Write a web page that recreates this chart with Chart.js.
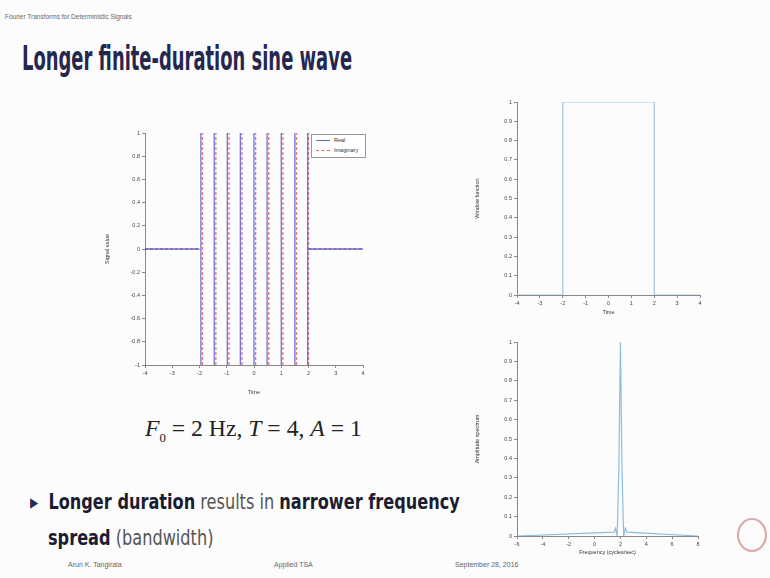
<!DOCTYPE html>
<html>
<head>
<meta charset="utf-8">
<script src="https://cdn.jsdelivr.net/npm/chart.js@4.4.0/dist/chart.umd.min.js"></script>
<style>
    body { margin: 0; background: #fff; }
    #slide { position: relative; width: 770px; height: 578px; background: #fcfcfc; overflow: hidden; font-family: "Liberation Sans", sans-serif; }
    .abs { position: absolute; white-space: nowrap; }
    #header { left: 5px; top: 13px; font-size: 6.5px; color: #666; }
    #title { left: 22px; top: 38px; font-family: "Liberation Sans Narrow", "DejaVu Sans Condensed", sans-serif; font-weight: bold; font-size: 34px; color: #26274f; transform-origin: 0 0; }
    #formula { left: 145px; top: 415px; font-family: "Liberation Serif", serif; font-size: 24px; color: #222; transform-origin: 0 0; }
    #formula i { font-style: italic; }
    #formula sub { font-size: 13px; }
    .bullet { left: 30px; font-family: "Liberation Sans Narrow", "DejaVu Sans Condensed", sans-serif; font-size: 21px; color: #555; transform-origin: 0 0; }
    .bullet b { color: #1c1c30; }
    #line1 { top: 490px; }
    #line2 { top: 526px; left: 48px; }
    .foot { top: 561px; font-size: 7px; color: #666; }
    #legend { left: 311px; top: 134px; width: 53px; height: 22px; border: 1px solid #999; background: #fff; font-size: 5.5px; color: #333; }
    #legend div { position: relative; height: 10px; line-height: 10px; padding-left: 22px; }
    #legend span { position: absolute; left: 4px; top: 5px; width: 14px; height: 0; }
    #logo { left: 737px; top: 518px; width: 26px; height: 30px; border: 2px solid #d8a6a6; border-radius: 50%; }
    canvas { position: absolute; }
</style>
</head>
<body>
<div id="slide">
    <div id="header" class="abs">Fourier Transforms for Deterministic Signals</div>
    <div id="title" class="abs">Longer finite-duration sine wave</div>

    <canvas id="mainChart" width="280" height="280" style="left:100px; top:120px;"></canvas>
    <div id="legend" class="abs">
        <div><span style="border-top:1.3px solid rgba(70,70,200,0.8);"></span>Real</div>
        <div><span style="border-top:1.3px dashed rgba(210,70,90,0.8);"></span>Imaginary</div>
    </div>

    <canvas id="windowChart" width="250" height="230" style="left:470px; top:90px;"></canvas>
    <canvas id="spectrumChart" width="250" height="230" style="left:470px; top:330px;"></canvas>

    <div id="formula" class="abs"><i>F</i><sub>0</sub> = 2 Hz, <i>T</i> = 4, <i>A</i> = 1</div>

    <div id="line1" class="abs bullet"><span style="color:#2a2a55;">&#9656;</span>&nbsp; <b>Longer duration</b> results in <b>narrower frequency</b></div>
    <div id="line2" class="abs bullet"><b>spread</b> (bandwidth)</div>

    <div class="abs foot" style="left:68px;">Arun K. Tangirala</div>
    <div class="abs foot" style="left:274px;">Applied TSA</div>
    <div class="abs foot" style="left:455px;">September 28, 2016</div>
    <div id="logo" class="abs"></div>
</div>

<script>
    "use strict";

    // Signal (left plot): the sine shows as vertical strokes, one per cycle
    var realBandTimes = [-1.95, -1.46, -0.98, -0.5, 0.0, 0.48, 1.0, 1.5, 1.97];
    var imagBandTimes = [-1.89, -1.40, -0.92, -0.44, 0.06, 0.54, 1.06, 1.56, 2.0];
    var bandLow = -1;
    var bandHigh = 1;
    var offTimes = [-4, -2, 2, 4];
    var offValue = 0;

    // Window (top right)
    var windowTime = [-4, -2, -2, 2, 2, 4];
    var windowValue = [0, 0, 1, 1, 0, 0];

    // Spectrum (bottom right)
    var spectrumFreq = [-6, 1.5, 1.62, 1.75, 1.88, 2.0, 2.12, 2.25, 2.38, 2.5, 8];
    var spectrumMag = [0, 0.02, 0.04, 0, 0.35, 1, 0.35, 0, 0.04, 0.02, 0];

    // fit condensed text to the widths seen on the slide
    function fitWidth(id, target) {
        var el = document.getElementById(id);
        var s = target / el.offsetWidth;
        el.style.transform = 'scaleX(' + s + ')';
        return s;
    }
    fitWidth('title', 330);
    fitWidth('formula', 217);
    var s1 = fitWidth('line1', 430);
    document.getElementById('line2').style.transform = 'scaleX(' + s1 + ')';

    function bandSeries(times) {
        var pts = [{ x: offTimes[0], y: offValue }, { x: offTimes[1], y: offValue }, { x: offTimes[1], y: null }];
        times.forEach(function(t) {
            pts.push({ x: t, y: bandLow });
            pts.push({ x: t, y: bandHigh });
            pts.push({ x: t, y: null });
        });
        pts.push({ x: offTimes[2], y: offValue });
        pts.push({ x: offTimes[3], y: offValue });
        return pts;
    }

    function zip(xs, ys) {
        return xs.map(function(x, i) { return { x: x, y: ys[i] }; });
    }

    function oneDecimal(v) {
        return String(Math.round(v * 10) / 10);
    }

    function axis(min, max, step, title, fixed, isX, fmt) {
        return {
            type: 'linear',
            min: min,
            max: max,
            ticks: { stepSize: step, font: { size: 5.5 }, color: '#444', padding: 2, callback: fmt || oneDecimal, autoSkip: false },
            grid: { drawOnChartArea: false, tickLength: 3, color: '#888' },
            border: { color: '#888' },
            title: { display: true, text: title, font: { size: 5.5 }, color: '#333', padding: isX ? { top: 1 } : { bottom: 2 } },
            afterFit: function(scale) {
                if (isX) { scale.height = fixed; } else { scale.width = fixed; }
            }
        };
    }

    function baseOptions(pad, xAxis, yAxis) {
        return {
            responsive: false,
            animation: false,
            spanGaps: false,
            layout: { padding: pad },
            plugins: { legend: { display: false }, tooltip: { enabled: false } },
            elements: { point: { radius: 0 }, line: { tension: 0 } },
            scales: { x: xAxis, y: yAxis }
        };
    }

    // Main chart
    new Chart(document.getElementById('mainChart').getContext('2d'), {
        type: 'line',
        data: {
            datasets: [{
                label: 'Real',
                data: bandSeries(realBandTimes),
                borderColor: 'rgba(70,70,200,0.75)',
                borderWidth: 1.3
            }, {
                label: 'Imaginary',
                data: bandSeries(imagBandTimes),
                borderColor: 'rgba(210,70,90,0.7)',
                borderWidth: 1.3,
                borderDash: [3, 2]
            }]
        },
        options: baseOptions({ top: 13, right: 17, left: 0, bottom: 0 },
            axis(-4, 4, 1, 'Time', 35, true, String),
            axis(-1, 1, 0.2, 'Signal value', 45, false))
    });

    // Window chart
    new Chart(document.getElementById('windowChart').getContext('2d'), {
        type: 'line',
        data: {
            datasets: [{
                data: zip(windowTime, windowValue),
                borderColor: '#a4c6e6',
                borderWidth: 1.2
            }]
        },
        options: baseOptions({ top: 12, right: 20, left: 0, bottom: 0 },
            axis(-4, 4, 1, 'Time', 25, true, String),
            axis(0, 1, 0.1, 'Window function', 47, false))
    });

    // Spectrum chart
    new Chart(document.getElementById('spectrumChart').getContext('2d'), {
        type: 'line',
        data: {
            datasets: [{
                data: zip(spectrumFreq, spectrumMag),
                borderColor: '#8fbde0',
                borderWidth: 1.2
            }]
        },
        options: baseOptions({ top: 12, right: 22, left: 0, bottom: 0 },
            axis(-6, 8, 2, 'Frequency (cycles/sec)', 24, true, String),
            axis(0, 1, 0.1, 'Amplitude spectrum', 47, false))
    });
</script>
</body>
</html>
